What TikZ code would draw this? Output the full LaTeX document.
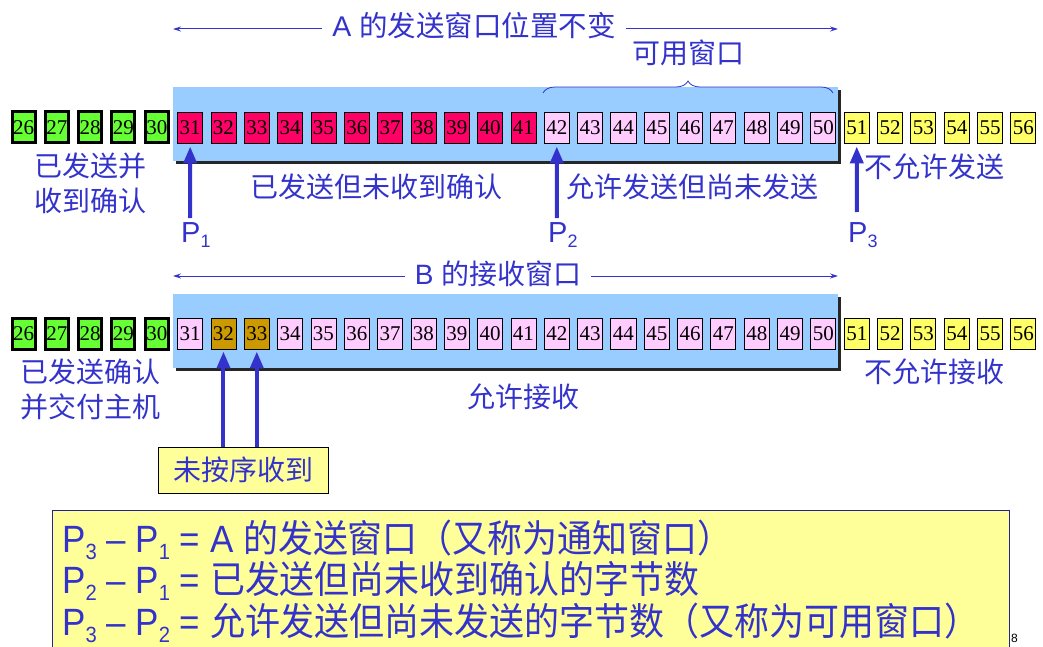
\documentclass[tikz,border=0pt]{standalone}
\usepackage{fontspec}
\setmainfont{Liberation Sans}
\newfontfamily\cjk{Noto Sans CJK SC}
\newfontfamily\cjkn[FakeStretch=0.92]{Noto Sans CJK SC}
\newfontfamily\latn[FakeStretch=0.92]{Liberation Sans}
\newfontfamily\numf{Liberation Serif}
\usetikzlibrary{decorations.pathreplacing,arrows.meta}
\definecolor{tblue}{RGB}{51,51,204}
\definecolor{wingreen}{RGB}{102,255,51}
\definecolor{winred}{RGB}{255,0,102}
\definecolor{winpink}{RGB}{255,204,255}
\definecolor{winyellow}{RGB}{255,255,102}
\definecolor{winbrown}{RGB}{204,153,0}
\definecolor{winbg}{RGB}{153,204,255}
\definecolor{noteyellow}{RGB}{255,255,153}
\newcommand{\Psub}[2]{P\raisebox{-#2}{\fontsize{18}{18}\selectfont #1}}
\newcommand{\Pbig}[1]{P\raisebox{-7pt}{\fontsize{22}{22}\selectfont #1}}
\begin{document}
\begin{tikzpicture}[x=1pt,y=-1pt,
  num/.style={draw=black, line width=0.9pt, minimum width=25pt, minimum height=31pt,
    inner sep=0pt, font=\numf\fontsize{21}{21}\selectfont},
  donebox/.style={num, fill=wingreen, line width=3pt, minimum width=23pt, minimum height=31pt},
  lbl/.style={text=tblue, inner sep=0pt, font=\cjk\fontsize{28}{35}\selectfont, align=center},
  plbl/.style={text=tblue, inner sep=0pt, anchor=base west, font=\fontsize{29}{29}\selectfont},
  notetext/.style={text=tblue, anchor=base west, inner sep=0pt, font=\latn\fontsize{38}{38}\selectfont},
  uparrow/.style={draw=tblue, line width=4pt, -{Triangle[length=17pt,width=13pt]}},
  thinarrow/.style={draw=tblue, line width=1pt, -{Stealth[length=8pt,width=5pt]}}
]
\useasboundingbox (0,0) rectangle (1043,647);

% window backgrounds with shadow
\fill[black!85] (176,90) rectangle (841,164);
\fill[winbg] (173,87) rectangle (838,161);
\fill[black!85] (176,297) rectangle (841,371);
\fill[winbg] (173,294) rectangle (838,368);

% top row
\foreach \n in {26,...,30} \node[donebox] (t\n) at ({23.5+33.33*(\n-26)},127.5) {\n};
\foreach \n in {31,...,41} \node[num, fill=winred] (t\n) at ({23.5+33.33*(\n-26)},127.5) {\n};
\foreach \n in {42,...,50} \node[num, fill=winpink] (t\n) at ({23.5+33.33*(\n-26)},127.5) {\n};
\foreach \n in {51,...,56} \node[num, fill=winyellow] (t\n) at ({23.5+33.33*(\n-26)},127.5) {\n};

% bottom row
\foreach \n in {26,...,30} \node[donebox] (b\n) at ({23.5+33.33*(\n-26)},333.5) {\n};
\foreach \n in {31,34,35,...,50} \node[num, fill=winpink] (b\n) at ({23.5+33.33*(\n-26)},333.5) {\n};
\foreach \n in {32,33} \node[num, fill=winbrown] (b\n) at ({23.5+33.33*(\n-26)},333.5) {\n};
\foreach \n in {51,...,56} \node[num, fill=winyellow] (b\n) at ({23.5+33.33*(\n-26)},333.5) {\n};

% top title arrow
\node[lbl, inner xsep=10pt, font=\cjk\fontsize{28.5}{35}\selectfont] (ttl) at (474,26) {\fontspec{Liberation Sans}A \cjk 的发送窗口位置不变};
\coordinate (tl) at (173,29);
\coordinate (tr) at (838,29);
\draw[thinarrow] (ttl.west |- tl) -- (tl);
\draw[thinarrow] (ttl.east |- tr) -- (tr);

% available window brace
\node[lbl] (avail) at (688,53) {可用窗口};
\coordinate (bl) at (543,93);
\coordinate (br) at (833,93);
\draw[tblue, line width=0.8pt, decorate, decoration={brace, amplitude=12pt, aspect=0.5}] (bl) -- (br);

% top labels
\node[lbl] (acked) at (90,183) {已发送并\\收到确认};
\node[lbl] (unacked) at (376,187) {已发送但未收到确认};
\node[lbl] (allowed) at (692,187) {允许发送但尚未发送};
\node[lbl] (notallowed) at (934,167) {不允许发送};

% P pointers
\node[plbl] (p1) at (181,242) {\Psub{1}{5pt}};
\node[plbl] (p2) at (548,242) {\Psub{2}{5pt}};
\node[plbl] (p3) at (848,242) {\Psub{3}{5pt}};
\coordinate (a1) at (190.2,218);
\coordinate (a2) at (556.8,218);
\coordinate (a3) at (856.8,212);
\draw[uparrow, shorten >=3pt] (a1) -- (t31.south);
\draw[uparrow, shorten >=3pt] (a2) -- (t42.south);
\draw[uparrow, shorten >=3pt] (a3) -- (t51.south);

% receive window arrow
\node[lbl, inner xsep=10pt] (rttl) at (498,274) {\fontspec{Liberation Sans}B \cjk 的接收窗口};
\coordinate (rl) at (173,276);
\coordinate (rr) at (838,276);
\draw[thinarrow] (rttl.west |- rl) -- (rl);
\draw[thinarrow] (rttl.east |- rr) -- (rr);

% bottom labels
\node[lbl] (delivered) at (90,389) {已发送确认\\并交付主机};
\node[lbl] (recvok) at (523,397) {允许接收};
\node[lbl] (recvno) at (934,372) {不允许接收};

% out of order box
\node[draw=black, line width=0.9pt, fill=noteyellow, text=tblue, font=\cjk\fontsize{28}{28}\selectfont,
  minimum width=170pt, minimum height=46pt, inner sep=0pt] (ooo) at (243,470) {未按序收到};
\draw[uparrow, shorten >=2pt] (ooo.north -| b32) -- (b32.south);
\draw[uparrow, shorten >=2pt] (ooo.north -| b33) -- (b33.south);

% note box
\fill[noteyellow] (52,510) rectangle (1009,660);
\draw[tblue!70!black, line width=0.8pt] (52,660) -- (52,510) -- (1009,510) -- (1009,660);
\node[notetext] (l1) at (62,552)
  {\Pbig{3} – \Pbig{1} = A {\cjkn 的发送窗口（又称为通知窗口）}};
\node[notetext] (l2) at (62,593)
  {\Pbig{2} – \Pbig{1} = {\cjkn 已发送但尚未收到确认的字节数}};
\node[notetext] (l3) at (62,635)
  {\Pbig{3} – \Pbig{2} = {\cjkn 允许发送但尚未发送的字节数（又称为可用窗口）}};

% page number fragment
\node[anchor=north west, inner sep=0pt, font=\fontsize{12}{12}\selectfont] (pg) at (1011,634) {8};
\end{tikzpicture}
\end{document}
